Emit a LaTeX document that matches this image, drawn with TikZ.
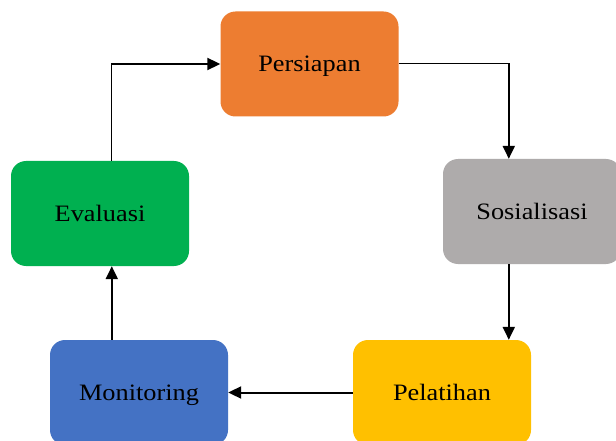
\documentclass[tikz,border=0pt]{standalone}
\usepackage{fontspec}
\setmainfont[FakeStretch=1.12]{Liberation Serif}
\usetikzlibrary{arrows.meta,calc}
\definecolor{corange}{HTML}{ED7D31}
\definecolor{cgray}{HTML}{AEABAB}
\definecolor{cyellow}{HTML}{FFC000}
\definecolor{cblue}{HTML}{4472C4}
\definecolor{cgreen}{HTML}{00B050}
\tikzset{
  stepbox/.style={rectangle, rounded corners=15pt, minimum width=178pt, minimum height=105pt, inner sep=0pt, text depth=0pt, draw=none, text=black, font=\fontsize{23.5}{27}\selectfont},
  thinline/.style={line width=1pt},
  thickarr/.style={line width=2pt, -{Triangle[length=13pt,width=12pt]}}
}
\begin{document}
\begin{tikzpicture}[x=1pt,y=-1pt]
\useasboundingbox (0,0) rectangle (616,441);
\fill[white] (0,0) rectangle (616,441);
\clip (0,0) rectangle (616,441);
\node[stepbox, fill=corange] (per) at (309.5,64) {Persiapan};
\node[stepbox, fill=cgray] (sos) at (532,211.5) {Sosialisasi};
\node[stepbox, fill=cyellow] (pel) at (442,392.5) {Pelatihan};
\node[stepbox, fill=cblue] (mon) at (139,392.5) {Monitoring};
\node[stepbox, fill=cgreen] (eva) at (100,213.5) {Evaluasi};
\coordinate (c1) at ($(sos.north west)+(66,0)$);
\coordinate (k1) at (c1 |- per.east);
\coordinate (c2) at ($(sos.south west)+(66,0)$);
\coordinate (c4) at ($(eva.north west)+(101,0)$);
\coordinate (k4) at (c4 |- per.west);
\draw[thinline] (per.east) -- ($(k1)+(1,0)$);
\draw[thickarr] (k1) -- (c1);
\draw[thickarr] (c2) -- (c2 |- pel.north);
\draw[thickarr] (pel.west) -- (mon.east);
\draw[thickarr] ($(mon.north west)+(62,0)$) -- ($(eva.south west)+(101,0)$);
\draw[thinline] (c4) -- ($(k4)+(0,-1)$);
\draw[thickarr] (k4) -- (per.west);
\end{tikzpicture}
\end{document}
